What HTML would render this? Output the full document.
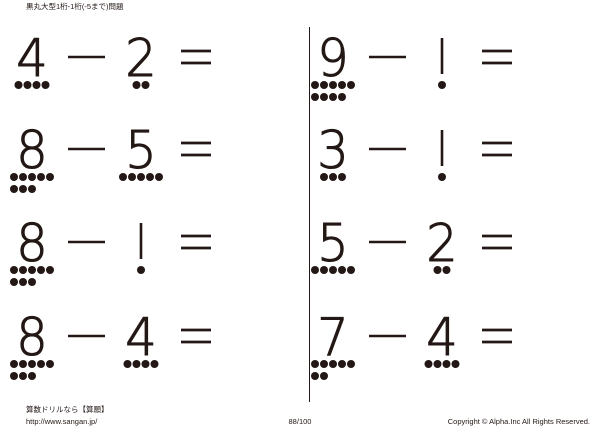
<!DOCTYPE html>
<html><head><meta charset="utf-8"><style>
html,body{margin:0;padding:0;background:#fff;width:600px;height:429px;overflow:hidden}
svg{display:block}
text{font-family:"Liberation Sans","Noto Sans CJK JP",sans-serif;fill:#231815}
text.d{font-family:"DejaVu Sans","Liberation Sans",sans-serif;font-weight:200;stroke:#231815;stroke-width:1.1}
</style></head><body>
<svg id="s" width="600" height="429" viewBox="0 0 600 429" xmlns="http://www.w3.org/2000/svg">
<text x="26" y="9" font-size="7.5" fill="#555">黒丸大型1桁-1桁(-5まで)問題</text>
<line x1="309.5" y1="27" x2="309.5" y2="402" stroke="#231815" stroke-width="1"/>
<text x="26" y="412" font-size="7.5">算数ドリルなら【算願】</text>
<text x="26" y="424" font-size="7.5">http://www.sangan.jp/</text>
<text x="300" y="424" font-size="7.5" text-anchor="middle">88/100</text>
<text x="590" y="424" font-size="7.5" text-anchor="end">Copyright © Alpha.Inc All Rights Reserved.</text>
</svg>
<script>
var s=document.getElementById('s'),NS='http://www.w3.org/2000/svg';
function el(t,a,txt){var e=document.createElementNS(NS,t);for(var k in a)e.setAttribute(k,a[k]);if(txt)e.textContent=txt;s.appendChild(e);}
function num(n,cx,my){
 if(n==1){el('line',{x1:cx,y1:my-19,x2:cx,y2:my+17,stroke:'#231815','stroke-width':2.6});}
 else el('text',{'class':'d',x:cx,y:my+19,'font-size':52,'text-anchor':'middle',transform:'translate('+cx+' 0) scale(0.95 1) translate('+(-cx)+' 0)'},String(n));
 var r1=Math.min(n,5),r2=n-r1,w=(r1-1)*9,x0=cx-w/2;
 for(var i=0;i<r1;i++)el('circle',{cx:x0+i*9,cy:my+28,r:4,fill:'#231815'});
 for(var i=0;i<r2;i++)el('circle',{cx:x0+i*9,cy:my+40,r:4,fill:'#231815'});
}
function eq(a,b,ox,my){
 num(a,ox+32,my);
 el('line',{x1:ox+68,y1:my,x2:ox+105,y2:my,stroke:'#231815','stroke-width':2.6});
 num(b,ox+141,my);
 el('line',{x1:ox+181,y1:my-6,x2:ox+211,y2:my-6,stroke:'#231815','stroke-width':2.8});
 el('line',{x1:ox+181,y1:my+6,x2:ox+211,y2:my+6,stroke:'#231815','stroke-width':2.8});
}
var ys=[57,149,242,336];
var L=[[4,2],[8,5],[8,1],[8,4]],R=[[9,1],[3,1],[5,2],[7,4]];
for(var i=0;i<4;i++){eq(L[i][0],L[i][1],0,ys[i]);eq(R[i][0],R[i][1],301,ys[i]);}
</script>
</body></html>
